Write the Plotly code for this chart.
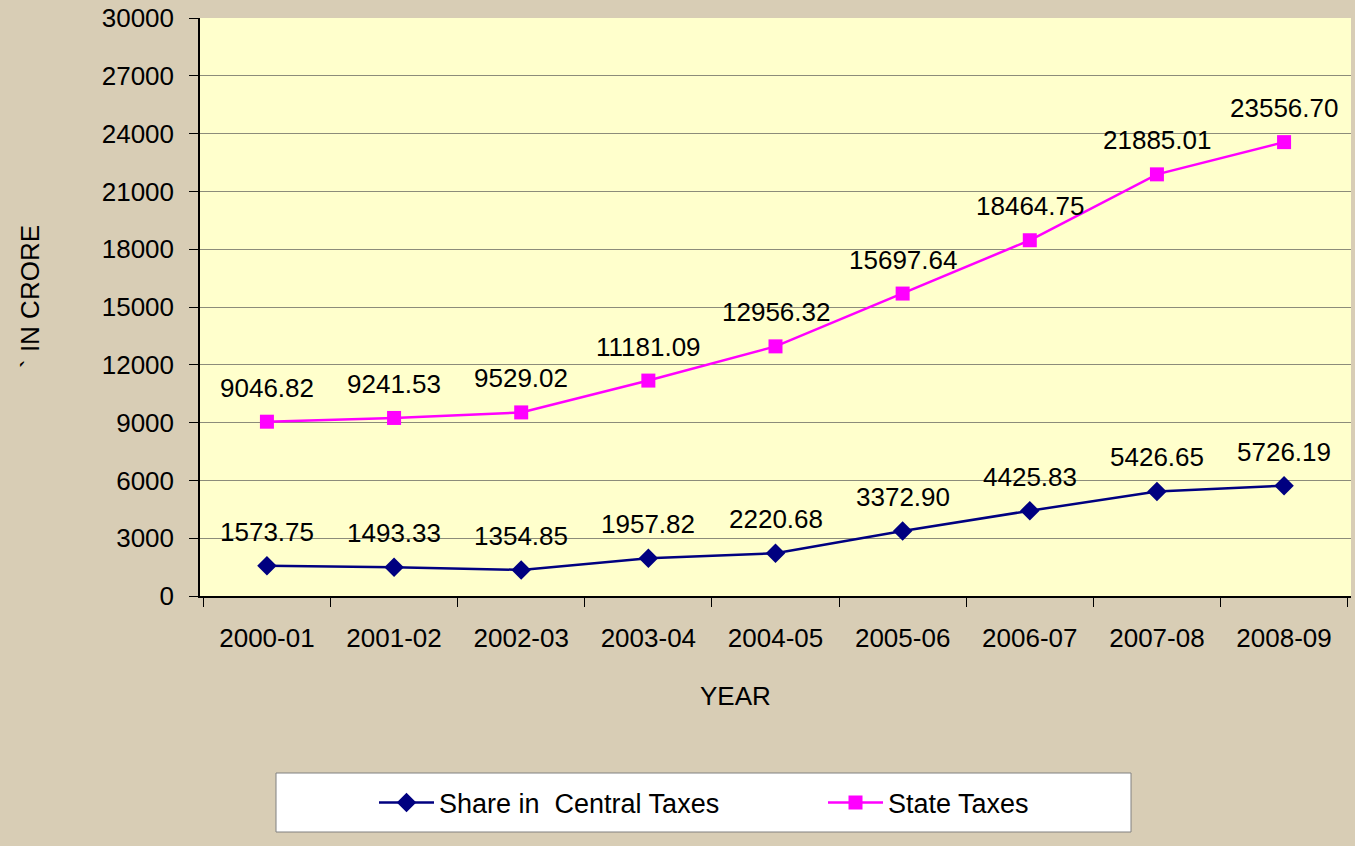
import plotly.graph_objects as go

years = ["2000-01", "2001-02", "2002-03", "2003-04", "2004-05", "2005-06", "2006-07", "2007-08", "2008-09"]
central = [1573.75, 1493.33, 1354.85, 1957.82, 2220.68, 3372.90, 4425.83, 5426.65, 5726.19]
state = [9046.82, 9241.53, 9529.02, 11181.09, 12956.32, 15697.64, 18464.75, 21885.01, 23556.70]
yticks = [0, 3000, 6000, 9000, 12000, 15000, 18000, 21000, 24000, 27000, 30000]

W, H = 1355, 846
L, R, T, B = 200, 1351, 18, 596
pw, ph = R - L, B - T

def px(x):
    return (x - L) / pw

def py(y):
    return (B - y) / ph

font = "Arial, Liberation Sans, sans-serif"
fig = go.Figure()
fig.add_trace(go.Scatter(x=years, y=central, mode="lines+markers", name="Share in  Central Taxes",
                         line=dict(color="#000080", width=2.5),
                         marker=dict(symbol="diamond", size=15, color="#000080")))
fig.add_trace(go.Scatter(x=years, y=state, mode="lines+markers", name="State Taxes",
                         line=dict(color="#ff00ff", width=2.5),
                         marker=dict(symbol="square", size=14, color="#ff00ff")))

for series in (central, state):
    for xv, yv in zip(years, series):
        fig.add_annotation(x=xv, y=yv, text=f"{yv:.2f}", showarrow=False, yshift=34,
                           font=dict(family=font, size=26, color="black"))

fig.add_annotation(xref="paper", yref="paper", x=px(735), y=py(696), text="YEAR", showarrow=False,
                   xanchor="center", yanchor="middle",
                   font=dict(family=font, size=26, color="black"))
fig.add_annotation(xref="paper", yref="paper", x=px(30), y=py(297), text="` IN CRORE", showarrow=False,
                   xanchor="center", yanchor="middle",
                   textangle=-90, font=dict(family=font, size=26, color="black"))

fig.add_shape(type="rect", xref="paper", yref="paper", x0=px(276), x1=px(1131),
              y0=py(832), y1=py(773), fillcolor="white",
              line=dict(color="#808080", width=1), layer="below")

fig.update_layout(
    width=W, height=H,
    margin=dict(l=L, r=W - R, t=T, b=H - B),
    paper_bgcolor="#d8cdb5", plot_bgcolor="#ffffcc",
    font=dict(family=font, size=26, color="black"),
    showlegend=True,
    legend=dict(orientation="h", x=px(374), xanchor="left", y=py(803), yanchor="middle",
                bgcolor="rgba(0,0,0,0)", font=dict(size=27, family=font), entrywidth=379,
                itemwidth=55),
    xaxis=dict(type="category", showgrid=False, showline=True, linecolor="black", linewidth=1.5,
               ticks="outside", ticklen=9, tickcolor="black", tickson="boundaries",
               tickfont=dict(size=26), ticklabelstandoff=18),
    yaxis=dict(range=[0, 30000], tickvals=yticks, ticktext=[str(v) for v in yticks],
               showgrid=True, gridcolor="#8c8c7a", gridwidth=1,
               showline=True, linecolor="black", linewidth=1.5, ticks="outside", ticklen=9,
               tickcolor="black", tickfont=dict(size=26), ticklabelstandoff=10, zeroline=False),
)
fig.write_html("out.html", config={"displayModeBar": False},
               post_script="document.body.style.margin='0px';document.body.style.padding='0px';")
